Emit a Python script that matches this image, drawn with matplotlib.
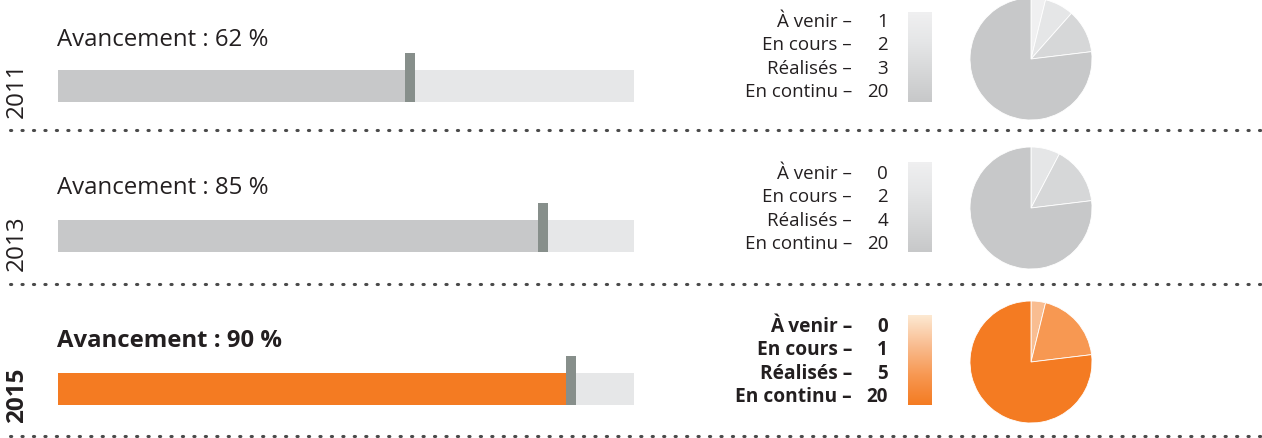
import matplotlib
matplotlib.use("Agg")
import matplotlib.pyplot as plt
import numpy as np
from matplotlib.lines import Line2D
from matplotlib.colors import LinearSegmentedColormap

plt.rcParams['font.family'] = ['Open Sans', 'DejaVu Sans']

years = ["2011", "2013", "2015"]
progress = [62, 85, 90]
categories = ["À venir", "En cours", "Réalisés", "En continu"]
counts = [[1, 2, 3, 20], [0, 2, 4, 20], [0, 1, 5, 20]]
highlight = [False, False, True]

W, H = 1262, 439
fig = plt.figure(figsize=(W / 100, H / 100), dpi=100)

def fx(x):
    return x / W

def fy(y):
    return 1 - y / H

gray_pal = ["#f0f0f1", "#e5e6e7", "#d6d7d8", "#c7c8c9"]
orange_pal = ["#fde9d2", "#f9bd91", "#f79852", "#f47b22"]
bg_col = "#e6e7e8"
marker_col = "#878f8b"
text_col = "#231f20"

# layout (pixel rows)
bar_top = [54, 204, 357]      # top of marker
title_y = [40, 188, 341]
year_y = [90, 243, 395]
legend_y0 = [22, 174, 327]
grad_top = [13, 163, 316]
pie_cy = [60, 209, 363]
sep_y = [131, 285, 437]

for i, year in enumerate(years):
    bold = highlight[i]
    pal = orange_pal if bold else gray_pal
    weight = "bold" if bold else "normal"

    # progress bar axes (marker top to bar bottom)
    top_px, bot_px = bar_top[i], bar_top[i] + 49
    ax = fig.add_axes([fx(58), fy(bot_px), fx(576), (bot_px - top_px) / H])
    ax.set_xlim(0, 100)
    ax.set_ylim(0, 49)
    ax.axis("off")
    ax.barh(16.5, 100, height=32, color=bg_col, left=0)
    ax.barh(16.5, progress[i], height=32, color=pal[3] if bold else "#c7c8c9", left=0)
    ax.barh(24.5, 1.75, height=49, left=progress[i] - 1.75, color=marker_col)

    fig.text(fx(57), fy(title_y[i]), f"Avancement : {progress[i]} %",
             fontsize=17.2 if bold else 17.3, ha="left", va="center",
             color=text_col, weight=weight)

    fig.text(fx(17), fy(year_y[i]), year, fontsize=17.5, rotation=90,
             ha="center", va="center", color=text_col, weight=weight)

    # legend labels
    for k, (cat, c) in enumerate(zip(categories, counts[i])):
        yy = fy(legend_y0[i] + 23.3 * k)
        fig.text(fx(852), yy, f"{cat} –", fontsize=13.5 if not bold else 13.8,
                 ha="right", va="center", color=text_col, weight=weight)
        fig.text(fx(888), yy, f"{c}", fontsize=13.5, ha="right", va="center",
                 color=text_col, weight=weight)

    # gradient bar
    gax = fig.add_axes([fx(908), fy(grad_top[i] + 90), fx(24), 90 / H])
    cmap = LinearSegmentedColormap.from_list("g", pal)
    grad = np.linspace(0, 1, 256).reshape(-1, 1)
    gax.imshow(grad, aspect="auto", cmap=cmap, origin="upper")
    gax.axis("off")

    # pie
    cy = pie_cy[i]
    r = 61
    pax = fig.add_axes([fx(1031 - r), fy(cy + r), fx(2 * r), 2 * r / H])
    pax.pie(counts[i], colors=pal, startangle=90, counterclock=False,
            wedgeprops=dict(linewidth=0.6, edgecolor="white"))
    pax.set_xlim(-1.0, 1.0)
    pax.set_ylim(-1.0, 1.0)
    pax.set_aspect("equal")
    pax.axis("off")

    # dotted separator
    fig.add_artist(Line2D([fx(10), fx(1262)], [fy(sep_y[i]), fy(sep_y[i])],
                          color="#4a4a4a", linewidth=2.2, linestyle=(0, (0.4, 3.35)),
                          dash_capstyle="round", transform=fig.transFigure))

fig.savefig("out.png", dpi=100, facecolor="white")
